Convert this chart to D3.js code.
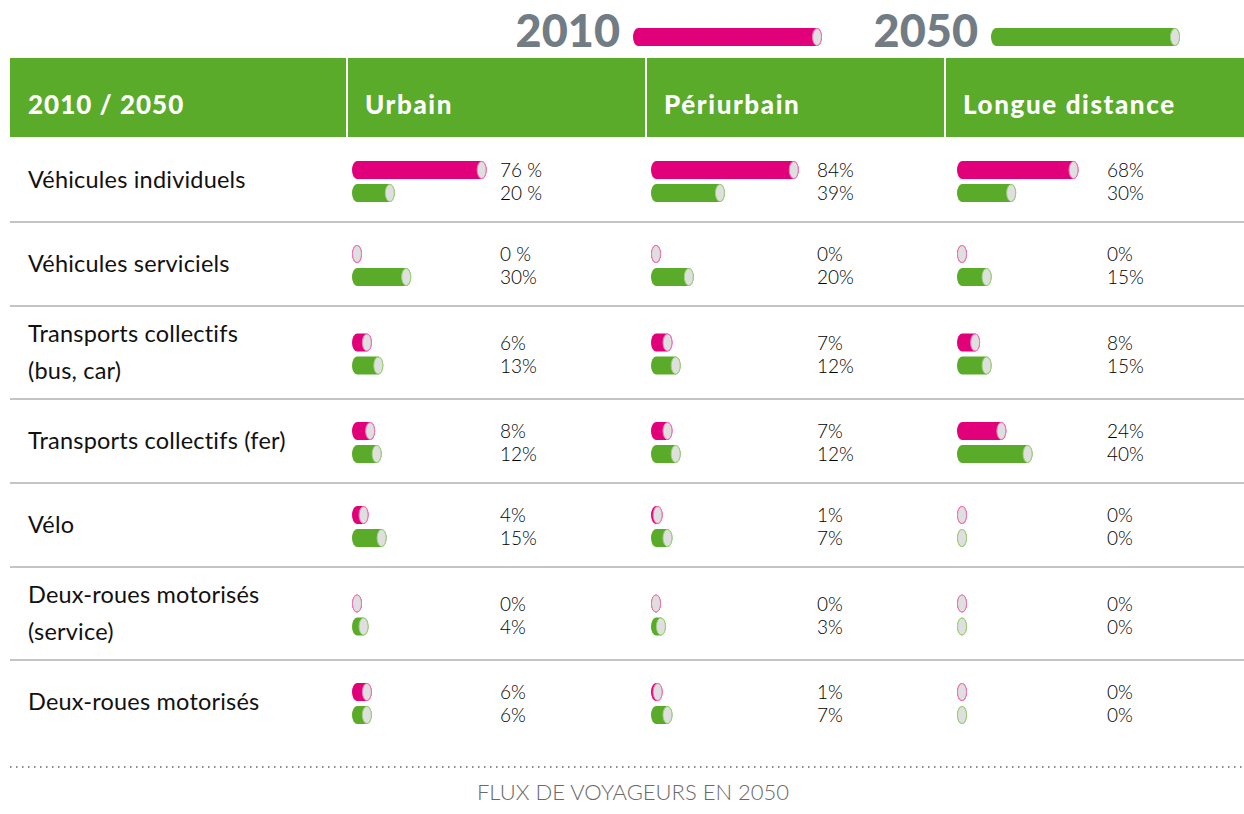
<!DOCTYPE html>
<html lang="fr">
  <head>
    <meta charset="UTF-8" />
    <title>Flux de voyageurs en 2050</title>
    <script src="https://cdn.jsdelivr.net/npm/d3@7/dist/d3.min.js"></script>
    <style>
      body { margin: 0; background: #fff; }
      svg { display: block; font-family: Lato, 'Open Sans', sans-serif; }
    </style>
  </head>
  <body>
    <div id='app'></div>

    <script>
  // data
  const modes = ['Véhicules individuels', 'Véhicules serviciels', 'Transports collectifs\n(bus, car)',
    'Transports collectifs (fer)', 'Vélo', 'Deux-roues motorisés\n(service)', 'Deux-roues motorisés']
  const zones = ['Urbain', 'Périurbain', 'Longue distance']
  const years = ['2010', '2050']

  const urbain2010 = [76, 0, 6, 8, 4, 0, 6]
  const urbain2050 = [20, 30, 13, 12, 15, 4, 6]
  const periurbain2010 = [84, 0, 7, 7, 1, 0, 1]
  const periurbain2050 = [39, 20, 12, 12, 7, 3, 7]
  const longue2010 = [68, 0, 8, 24, 0, 0, 0]
  const longue2050 = [30, 15, 15, 40, 0, 0, 0]

  // the source writes a few values with a space before %
  const urbain2010Labels = ['76 %', '0 %', '6%', '8%', '4%', '0%', '6%']
  const urbain2050Labels = ['20 %', '30%', '13%', '12%', '15%', '4%', '6%']

  const W = 1244, H = 814
  const pink = '#e2007a', green = '#5aab2a', grey = '#717c84'
  const colors = { '2010': pink, '2050': green }
  const capStroke = { '2010': '#f27ab8', '2050': '#9fd27c' }

  const series = [
    { zone: 'Urbain', '2010': urbain2010, '2050': urbain2050, labels2010: urbain2010Labels, labels2050: urbain2050Labels },
    { zone: 'Périurbain', '2010': periurbain2010, '2050': periurbain2050 },
    { zone: 'Longue distance', '2010': longue2010, '2050': longue2050 }
  ]

  const svg = d3.select('#app').append('svg')
    .attr('width', W)
    .attr('height', H)

  const col = d3.scaleBand().domain(zones).range([347, W]).paddingInner(0).paddingOuter(0)
  const len = d3.scaleLinear().domain([0, 100]).range([0, 164])
  const barH = 18, capR = 5
  // bar / value offsets inside each column (the source is not quite regular)
  const barOffset = { 'Urbain': 5, 'Périurbain': 5, 'Longue distance': 12 }
  const textOffset = { 'Urbain': 153, 'Périurbain': 171, 'Longue distance': 162 }

  // one "tube" bar: coloured body with a grey end cap
  function tube(g, x0, cy, w, year) {
    g.append('rect')
      .attr('x', x0).attr('y', cy - barH / 2)
      .attr('width', w).attr('height', barH)
      .attr('rx', capR).attr('ry', barH / 2)
      .attr('fill', colors[year])
    g.append('ellipse')
      .attr('cx', x0 + w - capR).attr('cy', cy)
      .attr('rx', capR - 0.5).attr('ry', barH / 2 - 0.5)
      .attr('fill', '#dfdfdf')
      .attr('stroke', capStroke[year])
      .attr('stroke-width', 1)
  }

  // legend
  const legend = [{ year: '2010', x: 620 }, { year: '2050', x: 978 }]
  legend.forEach(l => {
    svg.append('text')
      .attr('x', l.x).attr('y', 47)
      .attr('text-anchor', 'end')
      .attr('fill', grey)
      .style('font-size', '45px')
      .style('font-weight', 900)
      .text(l.year)
    tube(svg.append('g'), l.x + 13, 37, 189, l.year)
  })

  // header band
  const headStyle = sel => sel
    .attr('fill', '#fff')
    .style('font-size', '26px').style('font-weight', 900)
    .style('letter-spacing', '1.6px')
  svg.append('rect')
    .attr('x', 10).attr('y', 58)
    .attr('width', W - 10).attr('height', 79)
    .attr('fill', green)
  svg.append('text')
    .attr('x', 28).attr('y', 114)
    .call(headStyle)
    .style('letter-spacing', '1px')
    .text('2010 / 2050')
  zones.forEach(z => {
    svg.append('line')
      .attr('x1', col(z)).attr('x2', col(z))
      .attr('y1', 58).attr('y2', 137)
      .attr('stroke', '#fff').attr('stroke-width', 2)
    svg.append('text')
      .attr('x', col(z) + 18).attr('y', 114)
      .call(headStyle)
      .text(z)
  })

  // rows: two-line labels get a taller row
  const rowH = modes.map(m => m.includes('\n') ? 93 : 84)
  const rowTop = []
  rowH.reduce((acc, h, i) => { rowTop[i] = acc; return acc + h }, 138)

  modes.forEach((m, i) => {
    const top = rowTop[i], cy = top + rowH[i] / 2
    const row = svg.append('g')

    if (i < modes.length - 1) {
      row.append('line')
        .attr('x1', 10).attr('x2', W)
        .attr('y1', top + rowH[i]).attr('y2', top + rowH[i])
        .attr('stroke', '#8a8a8a').attr('stroke-width', 1)
    }

    const lines = m.split('\n')
    lines.forEach((t, k) => {
      row.append('text')
        .attr('x', 28)
        .attr('y', cy + 8 + (k - (lines.length - 1) / 2) * 37)
        .attr('fill', '#111')
        .style('font-size', '23.5px')
        .style('letter-spacing', '0.2px')
        .text(t)
    })

    series.forEach(s => {
      const x0 = col(s.zone) + barOffset[s.zone]
      years.forEach((y, k) => {
        const by = cy + (k === 0 ? -10 : 13)
        const v = s[y][i]
        tube(row.append('g'), x0, by, 2 * capR + len(v), y)
        const lbl = s['labels' + y] ? s['labels' + y][i] : v + '%'
        row.append('text')
          .attr('x', col(s.zone) + textOffset[s.zone])
          .attr('y', by + 7)
          .attr('fill', '#000')
          .style('font-size', '19px')
          .style('font-weight', 300)
          .text(lbl)
      })
    })
  })

  // footer
  svg.append('line')
    .attr('x1', 10).attr('x2', W)
    .attr('y1', 767).attr('y2', 767)
    .attr('stroke', '#8a8a8a').attr('stroke-width', 2)
    .attr('stroke-dasharray', '1.5,4.5')
  svg.append('text')
    .attr('x', 633).attr('y', 800)
    .attr('text-anchor', 'middle')
    .attr('fill', '#6a6a6a')
    .style('font-size', '22px')
    .style('font-weight', 300)
    .text('FLUX DE VOYAGEURS EN 2050')
    </script>
  </body>
</html>
